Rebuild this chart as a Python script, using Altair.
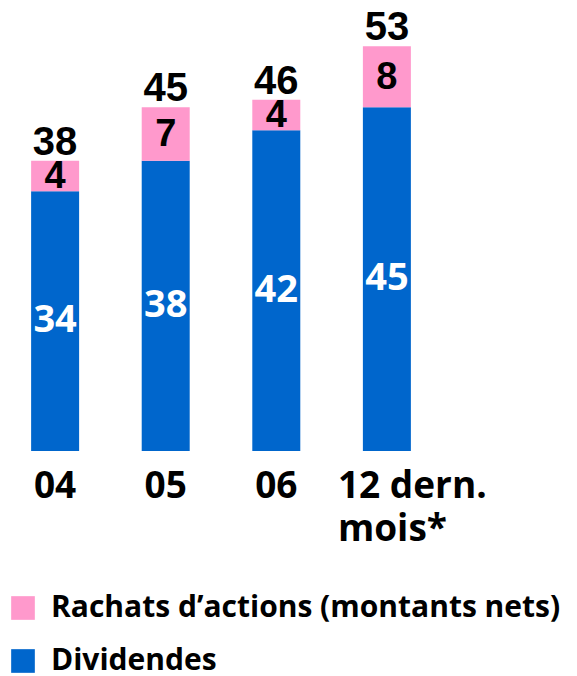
import altair as alt
import pandas as pd

categories = ["04", "05", "06", "12 dern. mois*"]
dividendes = [34, 38, 42, 45]
rachats = [4, 7, 4, 8]
totals = [38, 45, 46, 53]

S_RACHATS = "Rachats d’actions (montants nets)"
S_DIV = "Dividendes"
BLUE = "#0066CC"
PINK = "#FF99CC"

rows = []
for c, d, r in zip(categories, dividendes, rachats):
    rows.append({"cat": c, "serie": S_DIV, "value": d, "ord": 0, "mid": d / 2})
    rows.append({"cat": c, "serie": S_RACHATS, "value": r, "ord": 1, "mid": d + r / 2})
df = pd.DataFrame(rows)
tot = pd.DataFrame({"cat": categories, "total": totals})

xscale = alt.Scale(domain=categories, paddingInner=0.566, paddingOuter=0.2)
yscale = alt.Scale(domain=[0, 58])

x_enc = alt.X(
    "cat:N",
    scale=xscale,
    sort=categories,
    axis=alt.Axis(
        title=None,
        labelAngle=0,
        domain=False,
        ticks=False,
        labelFont="Open Sans",
        labelFontWeight="bold",
        labelFontSize=37,
        labelColor="black",
        labelPadding=17,
        labelBaseline="top",
        labelLineHeight=43,
        labelExpr="datum.value == '12 dern. mois*' ? ['12 dern.', 'mois*'] : datum.label",
        labelAlign={"condition": {"test": "datum.value == '12 dern. mois*'", "value": "left"}, "value": "center"},
        labelOffset={"condition": {"test": "datum.value == '12 dern. mois*'", "value": -49}, "value": 0},
    ),
)

bars = alt.Chart(df).mark_bar(opacity=1).encode(
    x=x_enc,
    y=alt.Y("value:Q", stack="zero", scale=yscale, axis=None),
    color=alt.Color(
        "serie:N",
        scale=alt.Scale(domain=[S_RACHATS, S_DIV], range=[PINK, BLUE]),
        legend=alt.Legend(
            title=None,
            orient="none",
            legendX=-1,
            legendY=585,
            padding=0,
            symbolType="square",
            symbolSize=560,
            symbolStrokeWidth=0,
            symbolOpacity=1,
            labelFont="Open Sans",
            labelFontWeight="bold",
            labelFontSize=30,
            labelColor="black",
            labelLimit=0,
            labelOffset=13,
            rowPadding=23,
        ),
    ),
    order=alt.Order("ord:Q"),
)

div_text = alt.Chart(df).transform_filter(alt.datum.serie == S_DIV).mark_text(
    font="Open Sans", fontWeight="bold", fontSize=38, color="white", baseline="middle"
).encode(
    x=alt.X("cat:N", scale=xscale, sort=categories),
    y=alt.Y("mid:Q", scale=yscale),
    text=alt.Text("value:Q"),
)

rach_text = alt.Chart(df).transform_filter(alt.datum.serie == S_RACHATS).mark_text(
    font="Liberation Sans", fontWeight="bold", fontSize=38, color="black", baseline="middle", dy=1
).encode(
    x=alt.X("cat:N", scale=xscale, sort=categories),
    y=alt.Y("mid:Q", scale=yscale),
    text=alt.Text("value:Q"),
)

tot_text = alt.Chart(tot).mark_text(
    font="Liberation Sans", fontWeight="bold", fontSize=40, color="black", baseline="alphabetic", dy=-6
).encode(
    x=alt.X("cat:N", scale=xscale, sort=categories),
    y=alt.Y("total:Q", scale=yscale),
    text=alt.Text("total:Q"),
)

chart = alt.layer(bars, div_text, rach_text, tot_text).properties(
    width=424, height=443, padding=0
).configure_view(stroke=None)

chart.save("out.html", embed_options={"renderer": "svg", "actions": False})
